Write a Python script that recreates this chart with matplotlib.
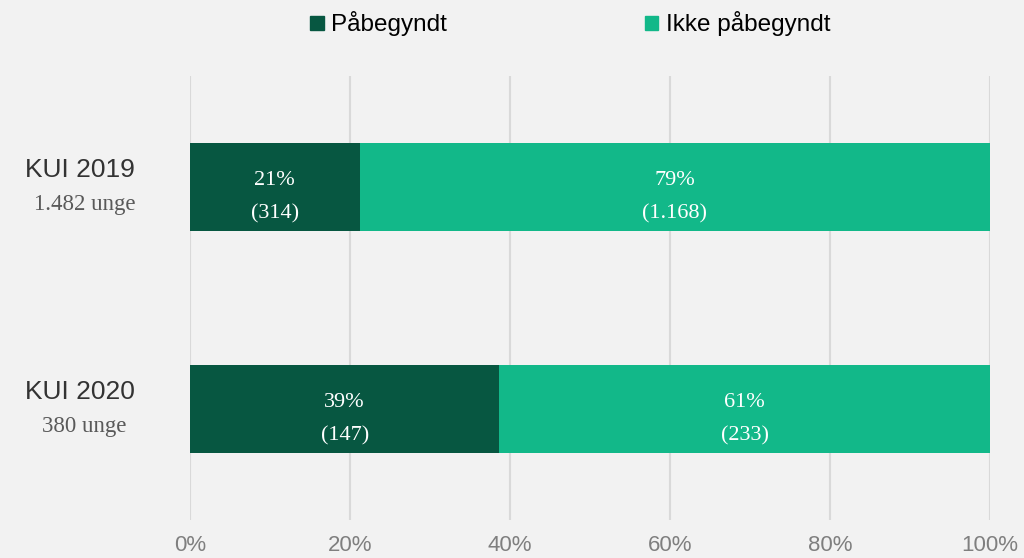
import matplotlib.pyplot as plt
from matplotlib.patches import Patch

# data
groups = ["KUI 2019", "KUI 2020"]
group_sizes = ["1.482 unge", "380 unge"]
started = [314, 147]
not_started = [1168, 233]
series_names = ["Påbegyndt", "Ikke påbegyndt"]
colors = ["#075741", "#12B889"]


def fmt_count(n):
    return "({:,})".format(n).replace(",", ".")


totals = [a + b for a, b in zip(started, not_started)]
pct_started = [a / t * 100 for a, t in zip(started, totals)]
pct_not = [b / t * 100 for b, t in zip(not_started, totals)]

bg = "#F2F2F2"
fig = plt.figure(figsize=(10.24, 5.58), dpi=100, facecolor=bg)
ax = fig.add_axes([190 / 1024, 38 / 558, 800 / 1024, 444 / 558])
ax.set_facecolor(bg)

y = list(range(len(groups)))
ax.barh(y, pct_started, height=0.4, color=colors[0], zorder=3)
ax.barh(y, pct_not, left=pct_started, height=0.4, color=colors[1], zorder=3)

ax.set_xlim(0, 100)
ax.set_ylim(1.5, -0.5)
ax.set_xticks([0, 20, 40, 60, 80, 100])
ax.set_xticklabels([f"{t}%" for t in [0, 20, 40, 60, 80, 100]],
                   fontsize=16, color="#7F7F7F", family="Liberation Sans")
ax.tick_params(axis="x", length=0, pad=11)
ax.set_yticks([])
ax.grid(axis="x", color="#D9D9D9", linewidth=1.5, zorder=0)
for s in ax.spines.values():
    s.set_visible(False)

# labels in bars
for i in y:
    for left, w, n in [(0, pct_started[i], started[i]),
                       (pct_started[i], pct_not[i], not_started[i])]:
        cx = left + w / 2
        ax.text(cx, i - 0.03, f"{round(w)}%", ha="center", va="center",
                color="white", fontsize=16, family="Liberation Serif", zorder=4)
        ax.text(cx, i + 0.12, fmt_count(n), ha="center", va="center",
                color="white", fontsize=16, family="Liberation Serif", zorder=4)

# category labels to the left
for i in y:
    ax.text(-13.8, i - 0.075, groups[i], ha="center", va="center",
            fontsize=19, color="#333333", family="Liberation Sans")
    ax.text(-13.2, i + 0.08, group_sizes[i], ha="center", va="center",
            fontsize=16.5, color="#595959", family="Liberation Serif")

handles = [Patch(color=c) for c in colors]
fig.legend(handles, series_names, loc="center", bbox_to_anchor=(0.557, 1 - 24 / 558),
           ncol=2, frameon=False, handlelength=0.55, handleheight=0.55,
           handletextpad=0.3, columnspacing=8.15,
           prop={"family": "Liberation Sans", "size": 17.5})

fig.savefig("out.png", dpi=100, facecolor=bg)
